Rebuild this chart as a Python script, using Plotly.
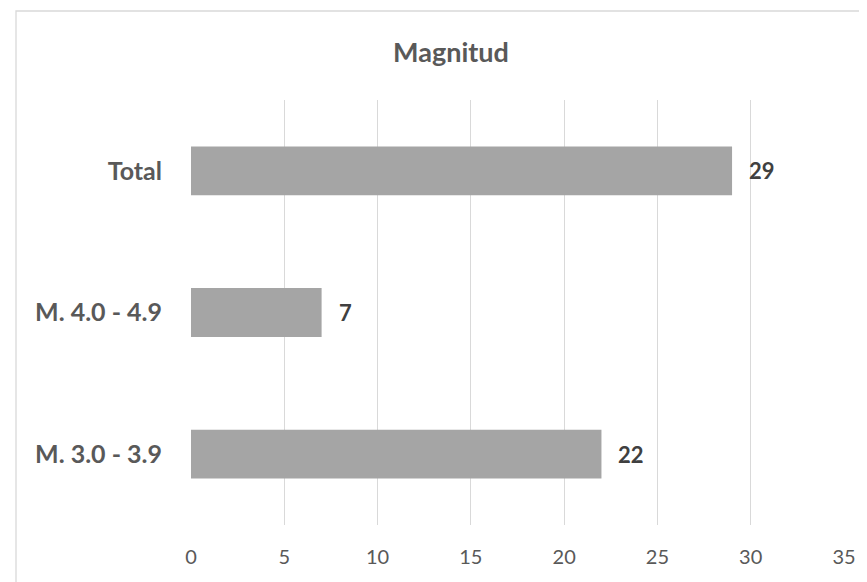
import plotly.graph_objects as go

categories = ["M. 3.0 - 3.9", "M. 4.0 - 4.9", "Total"]
values = [22, 7, 29]
x_ticks = [0, 5, 10, 15, 20, 25, 30, 35]
title_text = "Magnitud"

# page body has an 8px margin; compensate so the plot lands at reference pixel positions
OFF = 8
W, H = 867, 582
ml, mt = 191 - OFF, 100 - OFF
plot_right, plot_bottom = 844 - OFF, 525 - OFF
mr, mb = W - plot_right, H - plot_bottom
pw, ph = plot_right - ml, plot_bottom - mt

fig = go.Figure()
fig.add_trace(go.Bar(
    x=values, y=categories, orientation="h",
    marker=dict(color="#A5A5A5", line=dict(width=0)),
    width=0.345, hoverinfo="skip",
))

for c, v in zip(categories, values):
    fig.add_annotation(x=v, y=c, text=f"<b>{v}</b>", showarrow=False,
                       xanchor="left", xshift=15, yshift=0,
                       font=dict(family="Lato", size=22, color="#404040"))

fig.add_shape(type="rect", xref="paper", yref="paper",
              x0=(16 - OFF - ml) / pw, x1=(900 - OFF - ml) / pw,
              y0=-(620 - plot_bottom) / ph, y1=1 + (mt - (11 - OFF)) / ph,
              line=dict(color="#D9D9D9", width=1.3), fillcolor="rgba(0,0,0,0)", layer="below")

fig.update_layout(
    width=W, height=H,
    margin=dict(l=ml, r=mr, t=mt, b=mb),
    paper_bgcolor="white", plot_bgcolor="white",
    showlegend=False,
    title=dict(text=f"<b>{title_text}</b>", x=(451 - OFF) / W, xanchor="center",
               y=1 - (53 - OFF) / H, yanchor="middle",
               font=dict(family="Lato", size=27, color="#595959")),
    xaxis=dict(range=[0, 35], tickvals=x_ticks, showgrid=True, gridcolor="#D9D9D9",
               gridwidth=1, zeroline=False, showline=False, ticks="",
               ticklabelstandoff=18,
               tickfont=dict(family="Lato", size=20, color="#595959"), fixedrange=True),
    yaxis=dict(categoryorder="array", categoryarray=categories, range=[-0.5, 2.5],
               showgrid=False, zeroline=False, showline=False, ticks="",
               ticklabelstandoff=28,
               tickfont=dict(family="Lato", size=25, color="#595959", weight="bold"),
               fixedrange=True),
)

fig.write_html("out.html")
